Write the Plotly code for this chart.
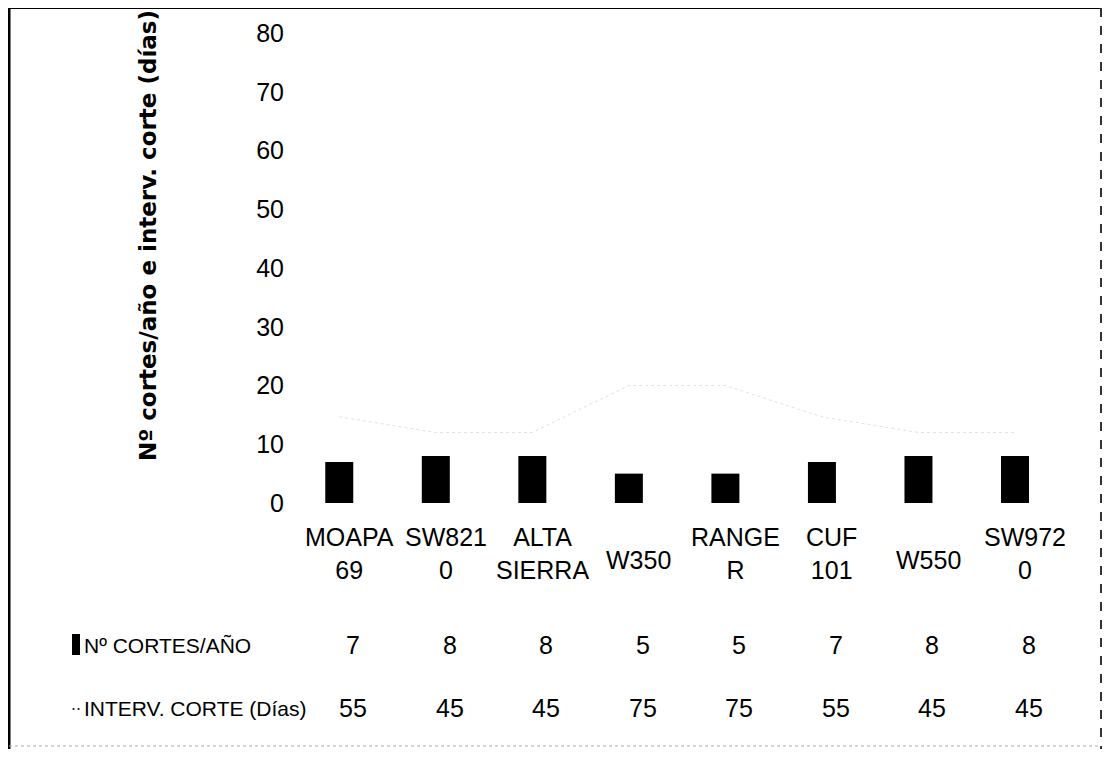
import plotly.graph_objects as go

categories = ["MOAPA 69", "SW8210", "ALTA SIERRA", "W350", "RANGER", "CUF 101", "W550", "SW9720"]
label_lines = [["MOAPA", "69"], ["SW821", "0"], ["ALTA", "SIERRA"], ["W350"],
               ["RANGE", "R"], ["CUF", "101"], ["W550"], ["SW972", "0"]]
cortes_ano = [7, 8, 8, 5, 5, 7, 8, 8]
interv_corte = [55, 45, 45, 75, 75, 55, 45, 45]
series_names = ["Nº CORTES/AÑO", "INTERV. CORTE (Días)"]
y_title = "Nº cortes/año e interv. corte (días)"
y_ticks = [0, 10, 20, 30, 40, 50, 60, 70, 80]

FONT = "Liberation Sans Narrow, Liberation Sans, Arial, sans-serif"
OFF = 8  # page body margin of the browser
W, H = 1111 - 2 * OFF, 757 - 2 * OFF
L, T = 291 - OFF, 33 - OFF
R = W - (1068 - OFF)
B = H - (503 - OFF)
PH = H - T - B
PW = W - L - R

def py(px):
    # reference pixel y -> paper y
    return (H - B - (px - OFF)) / PH

def pxx(px):
    # reference pixel x -> paper x
    return ((px - OFF) - L) / PW

fig = go.Figure()
fig.add_trace(go.Bar(x=categories, y=cortes_ano, name=series_names[0],
                     marker=dict(color="#000000", line=dict(width=0)), width=0.29))
fig.add_trace(go.Scatter(x=categories, y=interv_corte, name=series_names[1], yaxis="y2",
                         mode="lines", line=dict(color="#e2e2e2", width=1, dash="dot")))

annotations = []
for cat, lines in zip(categories, label_lines):
    yy = 553 if len(lines) == 2 else 560
    annotations.append(dict(x=cat, xref="x", y=py(yy), yref="paper", xshift=10,
                            text="<br>".join(lines), showarrow=False,
                            xanchor="center", yanchor="middle",
                            font=dict(family=FONT, size=25, color="#000")))
for cat, v1, v2 in zip(categories, cortes_ano, interv_corte):
    annotations.append(dict(x=cat, xref="x", y=py(645), yref="paper", xshift=14,
                            text=str(v1), showarrow=False, xanchor="center", yanchor="middle",
                            font=dict(family=FONT, size=25, color="#000")))
    annotations.append(dict(x=cat, xref="x", y=py(708), yref="paper", xshift=14,
                            text=str(v2), showarrow=False, xanchor="center", yanchor="middle",
                            font=dict(family=FONT, size=25, color="#000")))
# legend rows of the data table
annotations.append(dict(x=pxx(82), xref="paper", y=py(645), yref="paper", text=series_names[0],
                        showarrow=False, xanchor="left", yanchor="middle",
                        font=dict(family=FONT, size=21, color="#000")))
annotations.append(dict(x=pxx(82), xref="paper", y=py(708), yref="paper", text=series_names[1],
                        showarrow=False, xanchor="left", yanchor="middle",
                        font=dict(family=FONT, size=21, color="#000")))
annotations.append(dict(x=pxx(76), xref="paper", y=py(704), yref="paper", text="..",
                        showarrow=False, xanchor="center", yanchor="middle",
                        font=dict(family=FONT, size=18, color="#222")))
# y title
annotations.append(dict(x=pxx(148), xref="paper", y=py(236), yref="paper", text="<b>" + y_title + "</b>",
                        textangle=-90, showarrow=False, xanchor="center", yanchor="middle",
                        font=dict(family="DejaVu Sans", size=23, color="#000")))

shapes = [
    dict(type="rect", xref="paper", yref="paper", x0=pxx(72), x1=pxx(80), y0=py(655), y1=py(634),
         fillcolor="#000", line=dict(width=0)),
    dict(type="line", xref="paper", yref="paper", x0=pxx(9), x1=pxx(9), y0=py(8), y1=py(749),
         line=dict(color="#000", width=3)),
    dict(type="line", xref="paper", yref="paper", x0=pxx(9), x1=pxx(1101), y0=py(8), y1=py(8),
         line=dict(color="#000", width=2)),
    dict(type="line", xref="paper", yref="paper", x0=pxx(1101), x1=pxx(1101), y0=py(8), y1=py(749),
         line=dict(color="#333", width=2, dash="dash")),
    dict(type="line", xref="paper", yref="paper", x0=pxx(9), x1=pxx(1101), y0=py(746), y1=py(746),
         line=dict(color="#aaa", width=1, dash="dot")),
]

fig.update_layout(
    width=W, height=H,
    margin=dict(l=L, r=R, t=T, b=B, autoexpand=False),
    paper_bgcolor="white", plot_bgcolor="white",
    showlegend=False,
    xaxis=dict(showticklabels=False, showgrid=False, zeroline=False, showline=False, ticks=""),
    yaxis=dict(range=[0, 80], tickvals=y_ticks, showgrid=False, zeroline=False, showline=False,
               ticks="", tickfont=dict(family=FONT, size=25, color="#000"), ticklabelstandoff=6),
    yaxis2=dict(range=[0, 300], overlaying="y", side="right", visible=False),
    annotations=annotations,
    shapes=shapes,
)

fig.write_html("out.html")
